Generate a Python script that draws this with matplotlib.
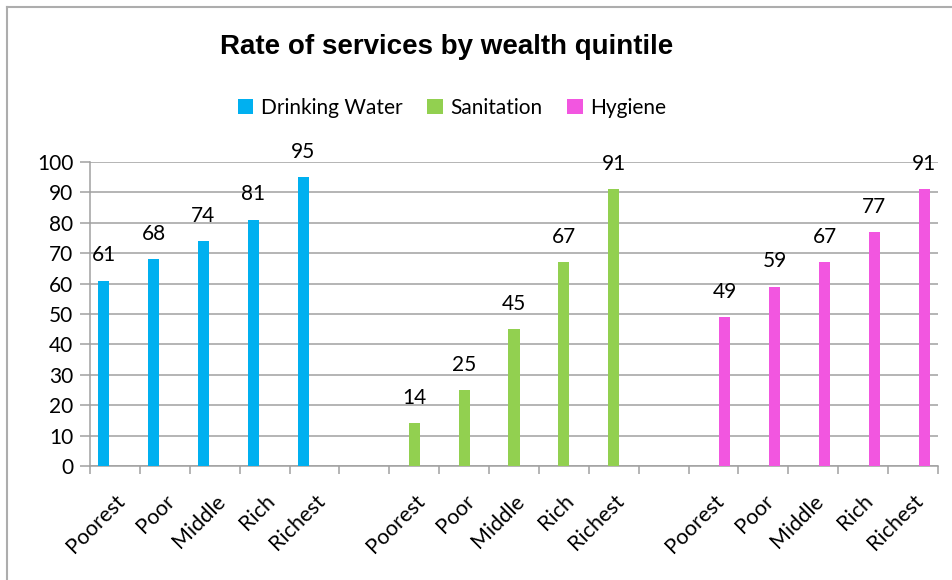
import matplotlib

matplotlib.use("Agg")

import matplotlib.pyplot as plt
import numpy as np
from matplotlib.lines import Line2D
from matplotlib.patches import Patch

quintiles = ["Poorest", "Poor", "Middle", "Rich", "Richest"]
series_names = ["Drinking Water", "Sanitation", "Hygiene"]
drinking_water = [61, 68, 74, 81, 95]
sanitation = [14, 25, 45, 67, 91]
hygiene = [49, 59, 67, 77, 91]
colors = ["#00B0F0", "#92D050", "#F256E0"]

BODY_FONT = "Lato"
TITLE_FONT = "Liberation Sans"
FS = 15

# 17 categories: 5 per group with one blank slot between groups,
# each series sits in its own slot of a 3-wide cluster (Excel style)
n_groups = 3
group_stride = len(quintiles) + 1
n_cats = n_groups * len(quintiles) + (n_groups - 1)
bar_w = 0.225
offsets = [-bar_w, 0.0, bar_w]

fig = plt.figure(figsize=(9.52, 5.8), dpi=100)
ax = fig.add_axes([90 / 952, 1 - 466 / 580, (938 - 90) / 952, (466 - 162) / 580])

for g, (name, vals, color) in enumerate(zip(series_names, [drinking_water, sanitation, hygiene], colors)):
    x = np.arange(len(quintiles)) + g * group_stride + offsets[g]
    bars = ax.bar(x, vals, width=bar_w, color=color, zorder=3)
    for bar, v in zip(bars, vals):
        ax.annotate(
            f"{v}",
            (bar.get_x() + bar.get_width() / 2, bar.get_height()),
            xytext=(0, 11),
            textcoords="offset points",
            ha="center",
            va="bottom",
            fontsize=FS,
            family=BODY_FONT,
        )

ax.set_xlim(-0.5, n_cats - 0.5)
ax.set_ylim(0, 100)
ax.set_yticks(range(0, 101, 10))
ax.grid(True, axis="y", color="#A0A0A0", linewidth=1.1, zorder=0)

# boundaries between categories carry the tick marks
ax.set_xticks(np.arange(-0.5, n_cats, 1.0))
ax.set_xticklabels([])
label_pos = []
label_txt = []
for g in range(n_groups):
    for i, q in enumerate(quintiles):
        label_pos.append(g * group_stride + i)
        label_txt.append(q)
ax.set_xticks(label_pos, minor=True)
ax.set_xticklabels(label_txt, minor=True)
for lab in ax.get_xticklabels(minor=True):
    lab.set_rotation(45)
    lab.set_rotation_mode("anchor")
    lab.set_ha("right")
    lab.set_va("top")
    lab.set_family(BODY_FONT)
    lab.set_fontsize(FS + 0.5)
ax.tick_params(axis="x", which="minor", length=0, pad=18)
ax.tick_params(axis="x", which="major", length=6, width=1.1, color="#A0A0A0", direction="out")
ax.tick_params(axis="y", length=7, width=1.1, color="#A0A0A0", pad=5, labelsize=FS)
for lab in ax.get_yticklabels():
    lab.set_family(BODY_FONT)

for side in ["top", "right"]:
    ax.spines[side].set_visible(False)
for side in ["left", "bottom"]:
    ax.spines[side].set_color("#A0A0A0")
    ax.spines[side].set_linewidth(1.1)

fig.text(447 / 952, 1 - 47 / 580, "Rate of services by wealth quintile",
         ha="center", va="center", fontsize=20, fontweight="bold", family=TITLE_FONT)

handles = [Patch(facecolor=c, edgecolor="none") for c in colors]
fig.legend(
    handles,
    series_names,
    loc="center",
    bbox_to_anchor=(452 / 952, 1 - 108 / 580),
    ncol=3,
    frameon=False,
    handlelength=0.75,
    handleheight=0.75,
    handletextpad=0.35,
    columnspacing=1.2,
    prop={"family": BODY_FONT, "size": FS},
)

# chart-area border (only left and top visible in the crop)
fig.add_artist(Line2D([7 / 952, 7 / 952], [0, 1 - 7 / 580], transform=fig.transFigure, color="#ADADAD", linewidth=1.5))
fig.add_artist(Line2D([7 / 952, 1], [1 - 7 / 580, 1 - 7 / 580], transform=fig.transFigure, color="#ADADAD", linewidth=1.5))

fig.savefig("out.png", dpi=100)
plt.close(fig)
